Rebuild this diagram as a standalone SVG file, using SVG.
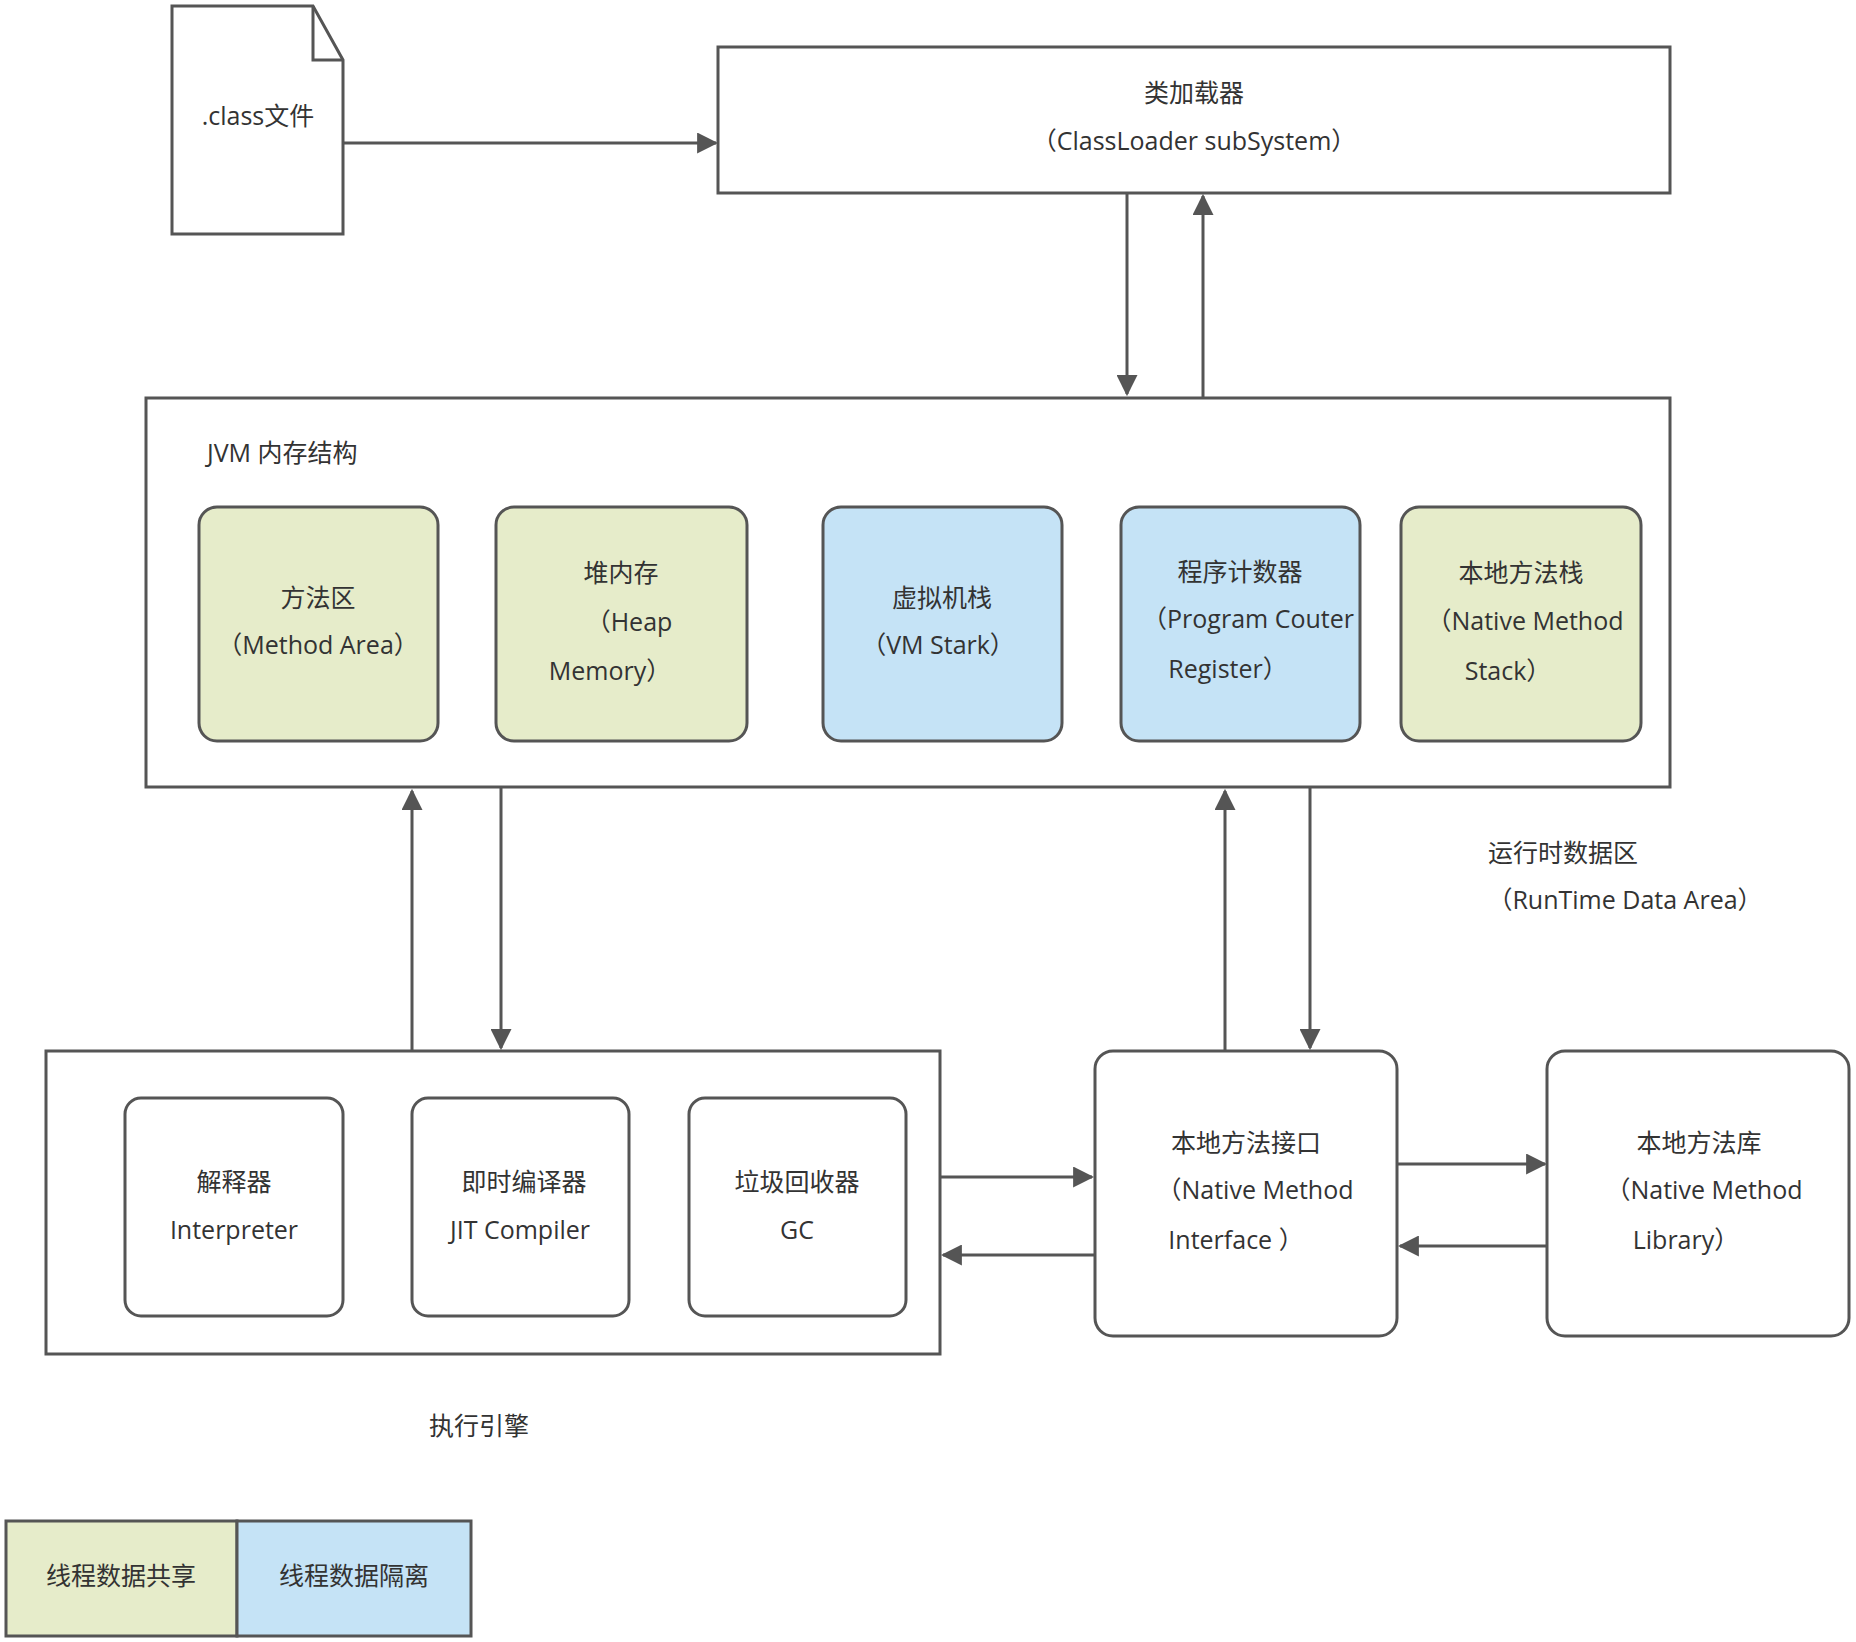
<svg xmlns="http://www.w3.org/2000/svg" width="1856" height="1642" viewBox="0 0 1856 1642">
<defs>
<marker id="a" viewBox="0 0 10 10" refX="9" refY="5" markerWidth="7" markerHeight="7" orient="auto"><path d="M0,0L10,5L0,10z" fill="#555"/></marker>
<style>
.b{fill:#fff;stroke:#555;stroke-width:3}
.g{fill:#e6ecca;stroke:#555;stroke-width:3}
.u{fill:#c5e3f6;stroke:#555;stroke-width:3}
text{font-family:"Open Sans","Noto Sans CJK SC",sans-serif;font-size:25px;fill:#333;text-anchor:middle;dominant-baseline:middle}
.c line{stroke:#555;stroke-width:3;marker-end:url(#a)}
</style>
</defs>
<rect width="1856" height="1642" fill="#fff"/>
<g id="file"><path class="b" d="M172,6H313L343,60V234H172Z"/><path d="M313,6V60H343" fill="none" stroke="#555" stroke-width="3"/><text x="258" y="118">.class文件</text></g>
<g id="classloader"><rect class="b" x="718" y="47" width="952" height="146"/><text x="1194" y="95">类加载器</text><text x="1194" y="143">（ClassLoader subSystem）</text></g>
<g id="jvm"><rect class="b" x="146" y="398" width="1524" height="389"/><text x="207" y="455" style="text-anchor:start">JVM 内存结构</text></g>
<g id="method"><rect class="g" x="199" y="507" width="239" height="234" rx="18"/><text x="318" y="600">方法区</text><text x="318" y="647">（Method Area）</text></g>
<g id="heap"><rect class="g" x="496" y="507" width="251" height="234" rx="18"/><text x="621" y="575">堆内存</text><text x="629" y="624">（Heap</text><text x="610" y="673">Memory）</text></g>
<g id="vmstack"><rect class="u" x="823" y="507" width="239" height="234" rx="18"/><text x="942" y="600">虚拟机栈</text><text x="938" y="647">（VM Stark）</text></g>
<g id="pc"><rect class="u" x="1121" y="507" width="239" height="234" rx="18"/><text x="1240" y="574">程序计数器</text><text x="1248" y="621">（Program Couter</text><text x="1228" y="671">Register）</text></g>
<g id="nstack"><rect class="g" x="1401" y="507" width="240" height="234" rx="18"/><text x="1521" y="575">本地方法栈</text><text x="1525" y="623">（Native Method</text><text x="1508" y="673">Stack）</text></g>
<text x="1563" y="855">运行时数据区</text><text x="1625" y="902">（RunTime Data Area）</text>
<g id="engine"><rect class="b" x="46" y="1051" width="894" height="303"/><text x="479" y="1428">执行引擎</text></g>
<g id="interp"><rect class="b" x="125" y="1098" width="218" height="218" rx="16"/><text x="234" y="1184">解释器</text><text x="234" y="1232">Interpreter</text></g>
<g id="jit"><rect class="b" x="412" y="1098" width="217" height="218" rx="16"/><text x="524" y="1184">即时编译器</text><text x="520" y="1232">JIT Compiler</text></g>
<g id="gc"><rect class="b" x="689" y="1098" width="217" height="218" rx="16"/><text x="797" y="1184">垃圾回收器</text><text x="797" y="1232">GC</text></g>
<g id="nmi"><rect class="b" x="1095" y="1051" width="302" height="285" rx="18"/><text x="1246" y="1145">本地方法接口</text><text x="1255" y="1192">（Native Method</text><text x="1236" y="1242">Interface ）</text></g>
<g id="nml"><rect class="b" x="1547" y="1051" width="302" height="285" rx="18"/><text x="1699" y="1145">本地方法库</text><text x="1704" y="1192">（Native Method</text><text x="1686" y="1242">Library）</text></g>
<g id="legend"><rect class="g" x="6" y="1521" width="231" height="115" rx="0"/><text x="121" y="1578">线程数据共享</text><rect class="u" x="237" y="1521" width="234" height="115"/><text x="354" y="1578">线程数据隔离</text></g>
<g class="c" id="connectors">
<line x1="343" y1="143" x2="716" y2="143"/>
<line x1="1127" y1="193" x2="1127" y2="394"/>
<line x1="1203" y1="397" x2="1203" y2="196"/>
<line x1="412" y1="1050" x2="412" y2="791"/>
<line x1="501" y1="788" x2="501" y2="1048"/>
<line x1="1225" y1="1050" x2="1225" y2="791"/>
<line x1="1310" y1="788" x2="1310" y2="1048"/>
<line x1="941" y1="1177" x2="1092" y2="1177"/>
<line x1="1094" y1="1255" x2="943" y2="1255"/>
<line x1="1398" y1="1164" x2="1545" y2="1164"/>
<line x1="1546" y1="1246" x2="1400" y2="1246"/>
</g>
</svg>
